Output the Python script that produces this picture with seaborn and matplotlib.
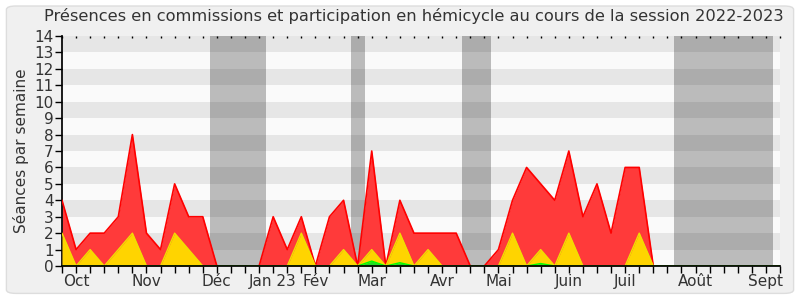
import numpy as np
import pandas as pd
import matplotlib
matplotlib.use("Agg")
import matplotlib.pyplot as plt
import seaborn as sns
from matplotlib.patches import FancyBboxPatch

# ---- data ----
weeks = list(range(52))
commission = [4, 1, 2, 2, 3, 8, 2, 1, 5, 3,
              3, 0, 0, 0, 0, 3, 1, 3, 0, 3,
              4, 0, 7, 0, 4, 2, 2, 2, 2, 0,
              0, 1, 4, 6, 5, 4, 7, 3, 5, 2,
              6, 6, 0, 0, 0, 0, 0, 0, 0, 0,
              0, 0]
hemicycle = [2, 0, 1, 0, 1, 2, 0, 0, 2, 1,
             0, 0, 0, 0, 0, 0, 0, 2, 0, 0,
             1, 0, 1, 0, 2, 0, 1, 0, 0, 0,
             0, 0, 2, 0, 1, 0, 2, 0, 0, 0,
             0, 2, 0, 0, 0, 0, 0, 0, 0, 0,
             0, 0]
interventions = [0] * 52
interventions[22] = 0.3
interventions[24] = 0.2
interventions[34] = 0.15
vacances = [(10.5, 14.5), (20.5, 21.5), (28.4, 30.5), (43.5, 50.5)]
month_pos = [1, 6, 11, 15, 18, 22, 27, 31, 36, 40, 45, 50]
month_labels = ["Oct", "Nov", "Déc", "Jan 23", "Fév", "Mar", "Avr", "Mai",
                "Juin", "Juil", "Août", "Sept"]

df = pd.DataFrame({"semaine": weeks, "commission": commission,
                   "hemicycle": hemicycle, "interventions": interventions})

sns.set_theme(style="white")
plt.rcParams["font.family"] = ["DejaVu Sans"]

fig = plt.figure(figsize=(8, 3), dpi=100, facecolor="white")
bg = FancyBboxPatch((0.008, 0.022), 0.984, 0.958,
                    boxstyle="round,pad=0,rounding_size=0.012",
                    transform=fig.transFigure, facecolor="#f0f0f0",
                    edgecolor="#dddddd", linewidth=1, zorder=-10)
fig.patches.append(bg)

ax = fig.add_axes([0.0775, 0.1133, 0.8975, 0.7667])
ax.set_facecolor("#fafafa")
ax.set_xlim(0, 51)
ax.set_ylim(0, 14)

# horizontal bands
for y0 in range(1, 14, 2):
    ax.axhspan(y0, y0 + 1, color="#e6e6e6", lw=0, zorder=0)
# vacation zones
for a, b in vacances:
    ax.axvspan(a, b, color="black", alpha=0.25, lw=0, zorder=1)

ax.fill_between(df["semaine"], df["commission"], color="#ff3a3a", lw=0, zorder=2)
sns.lineplot(data=df, x="semaine", y="commission", ax=ax, color="#ff0000",
             lw=1.2, zorder=3)
ax.fill_between(df["semaine"], df["hemicycle"], color="#ffd400", lw=0, zorder=4)
sns.lineplot(data=df, x="semaine", y="hemicycle", ax=ax, color="#f0e000",
             lw=1, zorder=5)
ax.fill_between(df["semaine"], df["interventions"], color="#22dd22", lw=0, zorder=6)
sns.lineplot(data=df, x="semaine", y="interventions", ax=ax, color="#00ff00",
             lw=1, zorder=7)

ax.set_xlabel("")
ax.set_ylabel("Séances par semaine", fontsize=11, color="#333333", labelpad=4)
ax.set_title("Présences en commissions et participation en hémicycle au cours de la session 2022-2023",
             fontsize=11.7, color="#333333", pad=11, x=0.49)

ax.xaxis.remove_overlapping_locs = False
ax.set_xticks(weeks)
ax.set_xticklabels([])
ax.set_xticks(month_pos, minor=True)
ax.set_xticklabels(month_labels, minor=True)
ax.tick_params(axis="x", which="major", direction="out", length=5, width=1,
               color="black", bottom=True, top=False)
ax.tick_params(axis="x", which="minor", length=0, labelsize=11,
               labelcolor="#333333", pad=6)
ax.set_yticks(range(15))
ax.tick_params(axis="y", direction="out", length=5, width=1, color="black",
               left=True, labelsize=11, labelcolor="#333333", pad=1)

for s in ["top", "right"]:
    ax.spines[s].set_visible(False)
ax.spines["bottom"].set_color("black")
ax.spines["left"].set_color("black")
ax.spines["bottom"].set_zorder(10)

# top dotted ticks
sec = ax.secondary_xaxis("top")
sec.set_xticks(weeks)
sec.set_xticklabels([])
sec.tick_params(direction="in", length=1.5, width=1, color="black")
sec.spines["top"].set_visible(False)

fig.savefig("out.png", dpi=100, facecolor="white")
